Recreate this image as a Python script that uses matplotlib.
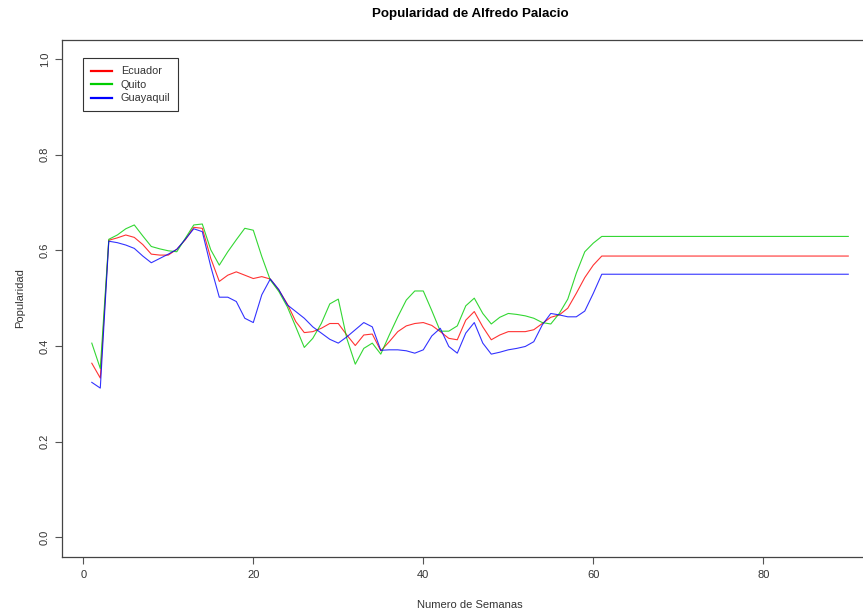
import matplotlib
matplotlib.use("Agg")
import matplotlib.pyplot as plt

plt.rcParams['font.family'] = ['Liberation Sans', 'DejaVu Sans']

# weekly popularity, weeks 1..90 (flat after week 61)
semanas = list(range(1, 91))

ecuador = [0.364, 0.333, 0.621, 0.626, 0.632, 0.627, 0.612, 0.592, 0.590, 0.590,
           0.602, 0.622, 0.648, 0.646, 0.583, 0.535, 0.548, 0.555, 0.548, 0.541,
           0.545, 0.540, 0.517, 0.488, 0.451, 0.428, 0.430, 0.437, 0.447, 0.447,
           0.423, 0.401, 0.423, 0.425, 0.390, 0.409, 0.430, 0.442, 0.447, 0.449,
           0.443, 0.430, 0.416, 0.413, 0.454, 0.472, 0.440, 0.413, 0.423, 0.430,
           0.430, 0.430, 0.434, 0.447, 0.460, 0.465, 0.479, 0.510, 0.543, 0.569,
           0.588] + [0.588] * 29

quito = [0.406, 0.353, 0.623, 0.632, 0.645, 0.653, 0.630, 0.608, 0.603, 0.599,
         0.597, 0.625, 0.653, 0.655, 0.601, 0.569, 0.597, 0.622, 0.646, 0.642,
         0.587, 0.538, 0.514, 0.482, 0.440, 0.397, 0.416, 0.447, 0.488, 0.498,
         0.416, 0.362, 0.395, 0.406, 0.383, 0.423, 0.461, 0.496, 0.515, 0.515,
         0.474, 0.431, 0.431, 0.442, 0.484, 0.500, 0.468, 0.446, 0.460, 0.468,
         0.466, 0.463, 0.458, 0.449, 0.446, 0.468, 0.498, 0.552, 0.597, 0.615,
         0.629] + [0.629] * 29

guayaquil = [0.324, 0.312, 0.619, 0.616, 0.611, 0.604, 0.588, 0.574, 0.583, 0.592,
             0.602, 0.623, 0.645, 0.639, 0.566, 0.502, 0.502, 0.493, 0.458, 0.449,
             0.507, 0.540, 0.518, 0.486, 0.472, 0.458, 0.440, 0.427, 0.414, 0.406,
             0.419, 0.434, 0.449, 0.440, 0.391, 0.392, 0.392, 0.390, 0.385, 0.392,
             0.421, 0.437, 0.399, 0.385, 0.427, 0.449, 0.406, 0.383, 0.387, 0.392,
             0.395, 0.399, 0.409, 0.444, 0.468, 0.465, 0.461, 0.461, 0.473, 0.510,
             0.550] + [0.550] * 29

xticks = [0, 20, 40, 60, 80]
yticks = [0.0, 0.2, 0.4, 0.6, 0.8, 1.0]

fig = plt.figure(figsize=(8.63, 6.15), dpi=100)
# plot region runs a little past the right edge of the image
ax = fig.add_axes([0.0713, 0.0951, 0.9467, 0.8402])

ax.plot(semanas, ecuador, color="#ff0000", lw=0.8, alpha=0.8, label="Ecuador")
ax.plot(semanas, quito, color="#00cd00", lw=0.8, alpha=0.8, label="Quito")
ax.plot(semanas, guayaquil, color="#0000ff", lw=0.8, alpha=0.8, label="Guayaquil")

ax.set_xlim(-2.56, 93.56)
ax.set_ylim(-0.04, 1.04)
ax.set_xticks(xticks)
ax.set_xticklabels([str(t) for t in xticks])
ax.set_yticks(yticks)
ax.set_yticklabels([f"{t:.1f}" for t in yticks], rotation=90, va="center")

ax.tick_params(direction="out", length=5, width=0.8, color="#555555",
               labelcolor="#333333", labelsize=8)
ax.tick_params(axis="x", pad=5)
ax.tick_params(axis="y", pad=3.5)
for s in ax.spines.values():
    s.set_color("#444444")
    s.set_linewidth(0.9)

leg = ax.legend(loc="upper left", bbox_to_anchor=(0.0267, 0.9642), borderaxespad=0,
                fontsize=7.8, fancybox=False, framealpha=1, edgecolor="#333333",
                handlelength=1.9, handletextpad=0.8, labelspacing=0.32, borderpad=0.75)
leg.get_frame().set_linewidth(0.8)
for h in leg.get_lines():
    h.set_linewidth(1.6)
    h.set_alpha(1)
for t in leg.get_texts():
    t.set_color("#333333")

fig.text(470 / 863, 1 - 14 / 615, "Popularidad de Alfredo Palacio",
         ha="center", va="center", fontsize=9.6, fontweight="bold")
fig.text(470 / 863, 1 - 605 / 615, "Numero de Semanas",
         ha="center", va="center", fontsize=8, color="#333333")
fig.text(20 / 863, 1 - 298 / 615, "Popularidad", rotation=90,
         ha="center", va="center", fontsize=8, color="#333333")

fig.savefig("out.png", dpi=100)
